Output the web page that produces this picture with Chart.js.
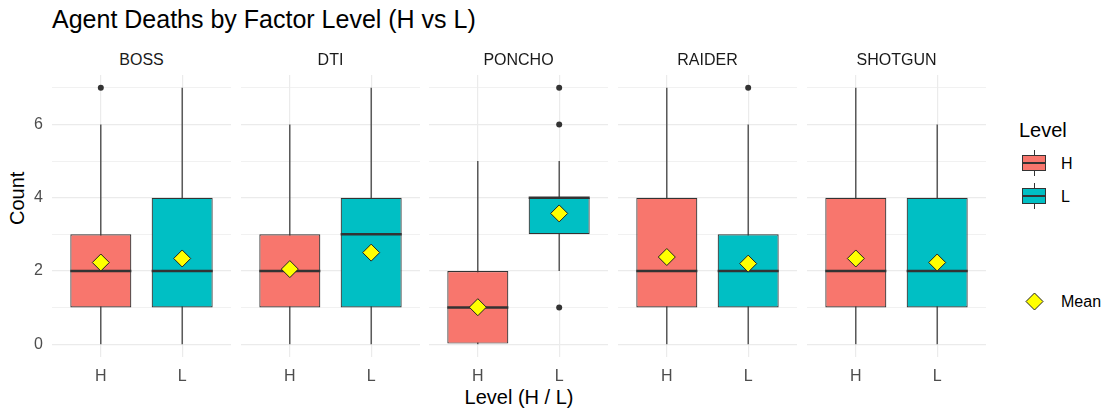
<!DOCTYPE html>
<html>
<head>
<meta charset="utf-8">
<script src="https://cdn.jsdelivr.net/npm/chart.js@4/dist/chart.umd.min.js"></script>
<style>
  body { margin: 0; background: #fff; font-family: "Liberation Sans", Arial, sans-serif; }
  #wrap { position: relative; width: 1104px; height: 412px; overflow: hidden; }
  .txt { position: absolute; white-space: nowrap; line-height: 1; }
  canvas.panel { position: absolute; }
  .key { position: absolute; width: 24px; height: 16px; border: 1px solid #333; box-sizing: border-box; }
  .key::after { content: ""; position: absolute; left: 0; right: 0; top: 6px; height: 1.5px; background: #333; }
  .wh { position: absolute; width: 1px; background: #333; }
</style>
</head>
<body>
<div id="wrap">
  <div class="txt" style="left:52px; top:7px; font-size:25px; color:#000;">Agent Deaths by Factor Level (H vs L)</div>
  <div class="txt" style="left:7px; top:215px; font-size:20px; color:#000; transform: translate(0,-50%) rotate(-90deg); transform-origin: 10px 50%;">Count</div>
  <div class="txt" style="left:519px; top:387px; font-size:20px; color:#000; transform: translateX(-50%);">Level (H / L)</div>
  <div id="legend"></div>
</div>

<script>
// Facet boxplots: agent deaths by factor level
const facets = ["BOSS", "DTI", "PONCHO", "RAIDER", "SHOTGUN"];
const levels = ["H", "L"];
const levelColors = ["#F8766D", "#00BFC4"];

// per facet: [H, L]
const whiskerLow = [[0, 0], [0, 0], [0, 2], [0, 0], [0, 0]];
const q1 = [[1, 1], [1, 1], [0, 3], [1, 1], [1, 1]];
const median = [[2, 2], [2, 3], [1, 4], [2, 2], [2, 2]];
const q3 = [[3, 4], [3, 4], [2, 4], [4, 3], [4, 4]];
const whiskerHigh = [[6, 7], [6, 7], [5, 5], [7, 6], [7, 6]];
const outliers = [[[7], []], [[], []], [[], [1, 6, 7]], [[], [7]], [[], []]];
const means = [[2.23, 2.34], [2.05, 2.5], [1.01, 3.57], [2.38, 2.2], [2.34, 2.23]];

const yTicks = [0, 1, 2, 3, 4, 5, 6, 7];
const yLabelled = [0, 2, 4, 6];

const BOX_WIDTH = 0.75;
const panelLeft = [52, 241, 429, 618, 807];
const panelWidth = 179;
const panelTop = 75;
const panelBottom = 357;
const axisW = 40;
const axisH = 32;

const wrap = document.getElementById("wrap");

function noScalePadding(scale) {
  scale.paddingTop = 0;
  scale.paddingBottom = 0;
  scale.paddingLeft = 0;
  scale.paddingRight = 0;
}

function buildPanel(i) {
  const canvas = document.createElement("canvas");
  canvas.className = "panel";
  const w = panelWidth + axisW + 4;
  const h = panelBottom - panelTop + axisH + 4;
  canvas.width = w;
  canvas.height = h;
  canvas.style.left = (panelLeft[i] - axisW) + "px";
  canvas.style.top = (panelTop - 4) + "px";
  canvas.style.width = w + "px";
  canvas.style.height = h + "px";
  wrap.appendChild(canvas);

  // strip label
  const strip = document.createElement("div");
  strip.className = "txt";
  strip.textContent = facets[i];
  strip.style.cssText = `left:${panelLeft[i] + panelWidth / 2}px; top:52px; font-size:16px; color:#1A1A1A; transform:translateX(-50%);`;
  wrap.appendChild(strip);

  const boxData = [], whiskerData = [], medianData = [], outlierData = [], meanData = [];
  levels.forEach((lv, j) => {
    const x = j + 1;
    boxData.push({ x: x, y: [q1[i][j], q3[i][j]] });
    whiskerData.push({ x: x, y: whiskerLow[i][j] });
    whiskerData.push({ x: x, y: whiskerHigh[i][j] });
    whiskerData.push({ x: x + 0.5, y: null });
    medianData.push({ x: x - BOX_WIDTH / 2, y: median[i][j] });
    medianData.push({ x: x + BOX_WIDTH / 2, y: median[i][j] });
    medianData.push({ x: x + 0.5, y: null });
    outliers[i][j].forEach((v) => outlierData.push({ x: x, y: v }));
    meanData.push({ x: x, y: means[i][j] });
  });

  new Chart(canvas.getContext("2d"), {
    type: "bar",
    data: {
      datasets: [
        {
          type: "scatter",
          data: meanData,
          order: 0,
          pointStyle: "rectRot",
          pointRadius: 8.5,
          backgroundColor: "#FFFF00",
          borderColor: "#222222",
          borderWidth: 1,
        },
        {
          type: "scatter",
          data: outlierData,
          order: 1,
          pointRadius: 3,
          backgroundColor: "#333333",
          borderWidth: 0,
        },
        {
          type: "line",
          data: medianData,
          order: 2,
          borderColor: "#333333",
          borderWidth: 2.6,
          pointRadius: 0,
          spanGaps: false,
        },
        {
          type: "bar",
          data: boxData,
          order: 3,
          backgroundColor: levelColors,
          borderColor: "#333333",
          borderWidth: 1.2,
          borderSkipped: false,
          barPercentage: BOX_WIDTH,
          categoryPercentage: 1,
          grouped: false,
        },
        {
          type: "line",
          data: whiskerData,
          order: 4,
          borderColor: "#333333",
          borderWidth: 1.2,
          pointRadius: 0,
          spanGaps: false,
        },
      ],
    },
    options: {
      responsive: false,
      animation: false,
      layout: { autoPadding: false, padding: { top: 4, right: 4, left: 0, bottom: 0 } },
      plugins: { legend: { display: false }, tooltip: { enabled: false } },
      scales: {
        x: {
          type: "linear",
          min: 0.4,
          max: 2.6,
          offset: false,
          afterBuildTicks: (scale) => {
            scale.ticks = levels.map((_, j) => ({ value: j + 1 }));
          },
          afterFit: (scale) => {
            scale.height = axisH;
            noScalePadding(scale);
          },
          ticks: {
            padding: 10,
            color: "#4D4D4D",
            font: { size: 16, family: "'Liberation Sans', Arial, sans-serif" },
            callback: (v) => levels[Math.round(v) - 1],
          },
          grid: { color: "#EBEBEB", lineWidth: 1.2, drawTicks: false, offset: false },
          border: { display: false },
        },
        y: {
          type: "linear",
          min: -0.35,
          max: 7.35,
          afterBuildTicks: (scale) => {
            scale.ticks = yTicks.map((v) => ({ value: v }));
          },
          afterFit: (scale) => {
            scale.width = axisW;
            noScalePadding(scale);
          },
          ticks: {
            display: i === 0,
            padding: 9,
            color: "#4D4D4D",
            font: { size: 16, family: "'Liberation Sans', Arial, sans-serif" },
            callback: (v) => (yLabelled.includes(v) ? String(v) : ""),
          },
          grid: {
            color: "#EBEBEB",
            lineWidth: (ctx) => (yLabelled.includes(ctx.tick && ctx.tick.value) ? 1.2 : 0.7),
            drawTicks: false,
          },
          border: { display: false },
        },
      },
    },
  });
}

facets.forEach((_, i) => buildPanel(i));

// legend (ggplot style keys)
const legend = document.getElementById("legend");
legend.innerHTML = `
  <div class="txt" style="left:1019px; top:120px; font-size:20px; color:#000;">Level</div>
  ${levels.map((lv, j) => {
    const top = 155 + j * 33;
    return `
      <div class="wh" style="left:1034px; top:${top - 5}px; height:5px;"></div>
      <div class="key" style="left:1022px; top:${top}px; background:${levelColors[j]};"></div>
      <div class="wh" style="left:1034px; top:${top + 16}px; height:5px;"></div>
      <div class="txt" style="left:1061px; top:${top + 1}px; font-size:16px; color:#000;">${lv}</div>`;
  }).join("")}
  <svg style="position:absolute; left:1025px; top:292px;" width="19" height="19">
    <polygon points="9.5,1 18,9.5 9.5,18 1,9.5" fill="#FFFF00" stroke="#222" stroke-width="1"/>
  </svg>
  <div class="txt" style="left:1061px; top:294px; font-size:16px; color:#000;">Mean</div>
`;
</script>
</body>
</html>
